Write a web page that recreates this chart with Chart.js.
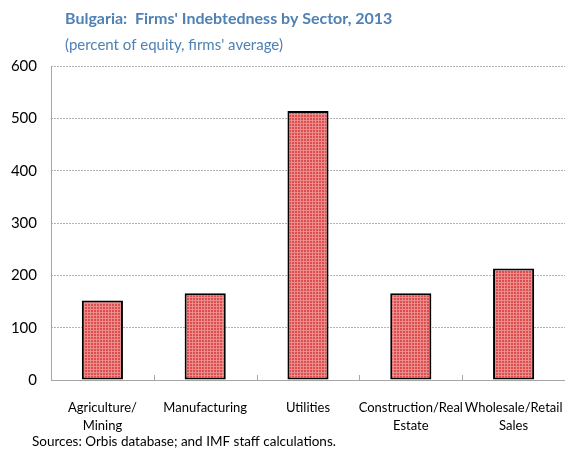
<!DOCTYPE html>
<html><head><meta charset="utf-8">
<script src="https://cdn.jsdelivr.net/npm/chart.js@4"></script>
<style>html,body{margin:0;padding:0;background:#fff}#w{width:565px;height:453px;position:relative}</style>
</head><body><div id="w"><canvas id="c"></canvas></div>
<script>
const categories = [['Agriculture/','Mining'], ['Manufacturing'], ['Utilities'], ['Construction/Real','Estate'], ['Wholesale/Retail','Sales']];
const indebtedness = [152, 166, 514, 166, 213];
const yTicks = [0, 100, 200, 300, 400, 500, 600];
const titleText = "Bulgaria:  Firms' Indebtedness by Sector, 2013";
const subtitleText = "(percent of equity, firms' average)";
const sourceText = "Sources: Orbis database; and IMF staff calculations.";

const FONT = "Lato, sans-serif";

function makePattern(){
  const p = document.createElement('canvas'); p.width = 3; p.height = 3;
  const x = p.getContext('2d');
  x.fillStyle = '#dc4e4e'; x.fillRect(0,0,3,3);
  x.fillStyle = '#ec8c8c'; x.fillRect(0,0,3,1); x.fillRect(0,0,1,3);
  return x.createPattern(p,'repeat');
}
const ctx = document.getElementById('c').getContext('2d');

const textPlugin = {
  id:'texts',
  afterDraw(chart){
    const c = chart.ctx; c.save();
    c.textBaseline = 'middle'; c.textAlign = 'left';
    c.fillStyle = '#4f81b4';
    c.font = "bold 16px " + FONT; c.fillText(titleText, 65, 19);
    c.font = "15px " + FONT; c.fillText(subtitleText, 65, 45);
    c.fillStyle = '#000'; c.font = "13.5px " + FONT; c.fillText(sourceText, 32, 442);
    const xs = chart.scales.x, ys = chart.scales.y, ca = chart.chartArea;
    const y0 = ys.getPixelForValue(0);
    c.strokeStyle = '#a6a6a6'; c.lineWidth = 1;
    c.beginPath(); c.moveTo(ca.left + 0.5, ca.top); c.lineTo(ca.left + 0.5, y0); c.stroke();
    for (let i = 0; i < categories.length - 1; i++) {
      const bx = Math.round((xs.getPixelForValue(i) + xs.getPixelForValue(i+1))/2) + 0.5;
      c.beginPath(); c.moveTo(bx, y0); c.lineTo(bx, y0 - 5); c.stroke();
    }
    c.restore();
  }
};

new Chart(ctx, {
  type:'bar',
  data:{labels:categories, datasets:[{data:indebtedness, backgroundColor:makePattern(), borderColor:'#000', borderWidth:2, borderSkipped:false, barPercentage:0.4, categoryPercentage:1}]},
  options:{
    responsive:true, maintainAspectRatio:false, animation:false,
    layout:{padding:{top:66, right:0, left:0, bottom:0}},
    plugins:{legend:{display:false}, tooltip:{enabled:false}},
    scales:{
      x:{
        grid:{display:false, drawTicks:false},
        border:{display:true, color:'#a6a6a6', width:1},
        ticks:{color:'#000', font:{family:FONT, size:13, lineHeight:1.45}, padding:18, maxRotation:0, autoSkip:false},
        afterFit(s){ s.height = 73; s.paddingLeft = 0; s.paddingRight = 0; }
      },
      y:{
        min:0, max:600,
        afterBuildTicks(s){ s.ticks = yTicks.map(v=>({value:v})); },
        grid:{color:'#b4b4b4', lineWidth:1, drawTicks:false},
        border:{display:false, dash:[2,1]},
        ticks:{color:'#000', font:{family:FONT, size:15}, padding:14},
        afterFit(s){ s.width = 51; s.paddingTop = 0; s.paddingBottom = 0; }
      }
    }
  },
  plugins:[textPlugin]
});
</script></body></html>
